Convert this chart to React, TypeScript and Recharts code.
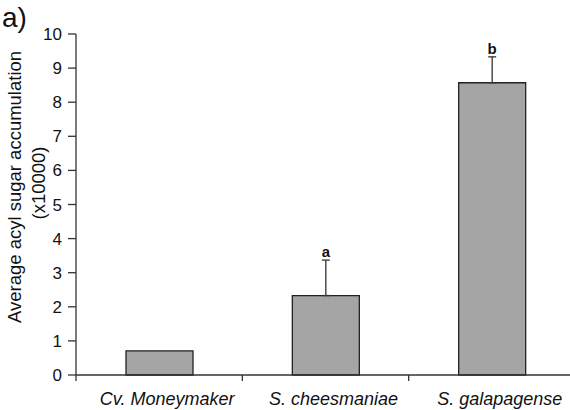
import React from 'react';
import { BarChart, Bar, XAxis, YAxis, ErrorBar, LabelList } from 'recharts';

const categories = ['Cv. Moneymaker', 'S. cheesmaniae', 'S. galapagense'];
const means = [0.71, 2.33, 8.57];
const upperErrors = [0, 1.04, 0.76];
const letters = ['', 'a', 'b'];
const yTicks = [0, 1, 2, 3, 4, 5, 6, 7, 8, 9, 10];

const data = categories.map((c, i) => ({
  name: c,
  value: means[i],
  err: upperErrors[i] ? [0, upperErrors[i]] : undefined,
  letter: letters[i],
}));

const FONT = '"Liberation Sans", Arial, Helvetica, sans-serif';

const CatTick = (props: any) => {
  const { x, y, payload } = props;
  const off = payload && payload.offset ? payload.offset : 83;
  return (
    <g>
      <line x1={x - off} y1={y - 8} x2={x - off} y2={y - 2} stroke="#333" strokeWidth={1.3} />
      <text x={x + 8} y={y + 22} textAnchor="middle" fontStyle="italic" fontSize={18} fill="#111" fontFamily={FONT}>
        {payload.value}
      </text>
    </g>
  );
};

const LetterLabel = (props: any) => {
  const { x, y, width, height, value, index } = props;
  if (!value) return null;
  const v = means[index];
  const pxPerUnit = v ? height / v : 0;
  const top = y - upperErrors[index] * pxPerUnit;
  return (
    <text x={x + width / 2} y={top - 3} textAnchor="middle" fontWeight="bold" fontSize={15} fill="#111" fontFamily={FONT}>
      {value}
    </text>
  );
};

const YTitle = () => (
  <g fontFamily={FONT} fontSize={18.5} fill="#111">
    <text x={14} y={187} transform="rotate(-90 14 187)" textAnchor="middle" dominantBaseline="central">
      Average acyl sugar accumulation
    </text>
    <text x={38} y={183} transform="rotate(-90 38 183)" textAnchor="middle" dominantBaseline="central">
      (x10000)
    </text>
  </g>
);

export default function App() {
  return (
    <div style={{ position: 'absolute', left: 0, top: 0, width: 570, height: 410, overflow: 'hidden', background: '#fff' }}>
      <BarChart
        width={580}
        height={410}
        data={data}
        margin={{ top: 34, right: 5, left: 0, bottom: 0 }}
      >
        <XAxis
          dataKey="name"
          height={35}
          axisLine={{ stroke: '#333', strokeWidth: 1.3 }}
          tickLine={false}
          tick={<CatTick />}
          interval={0}
        />
        <YAxis
          width={76}
          domain={[0, 10]}
          ticks={yTicks}
          interval={0}
          axisLine={{ stroke: '#333', strokeWidth: 1.3 }}
          tickLine={{ stroke: '#333', strokeWidth: 1.3 }}
          tickSize={8}
          tickMargin={6}
          tick={{ fontSize: 17, fill: '#111', fontFamily: FONT }}
          label={<YTitle />}
        />
        <Bar dataKey="value" fill="#a5a5a5" stroke="#222" strokeWidth={1.3} barSize={67} isAnimationActive={false}>
          <ErrorBar dataKey="err" direction="y" width={4} stroke="#333" strokeWidth={1.3} />
          <LabelList dataKey="letter" content={<LetterLabel />} />
        </Bar>
      </BarChart>
      <svg width={60} height={40} style={{ position: 'absolute', left: 0, top: 0 }}>
        <text x={2} y={27} fontFamily={FONT} fontSize={28} fill="#111">a)</text>
      </svg>
    </div>
  );
}
